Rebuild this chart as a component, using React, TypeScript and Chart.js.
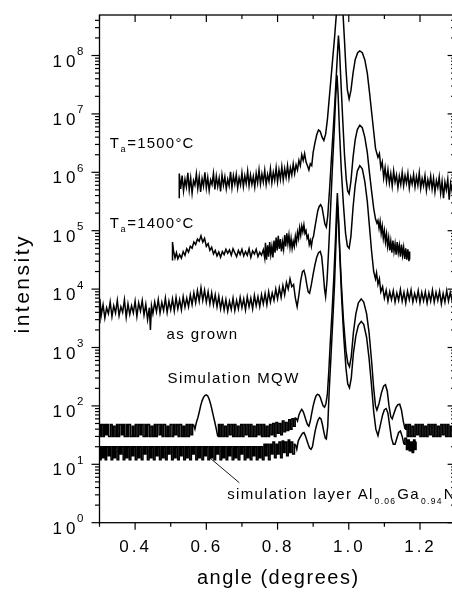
import React, { useEffect, useRef } from 'react';
import { Chart, registerables } from 'chart.js';

Chart.register(...registerables);

// ---- data (angle in degrees, intensity in counts) ----
const TA1500: [number, number][] = [
  [0.524,3.6e5],[0.524,9.5e5],[0.528,5.2e5],[0.532,8.8e5],[0.536,4.8e5],[0.54,7.6e5],[0.544,5.6e5],[0.548,9.8e5],[0.552,5e5],[0.556,8e5],
  [0.56,4.4e5],[0.564,7.2e5],[0.568,6e5],[0.572,9.4e5],[0.576,5.3e5],[0.58,8.4e5],[0.584,4.6e5],[0.588,7.8e5],[0.592,5.8e5],[0.596,1e6],
  [0.6,5.4e5],[0.604,8.2e5],[0.608,4.9e5],[0.612,7.4e5],[0.616,6.2e5],[0.62,9.6e5],[0.624,5.1e5],[0.628,8.6e5],[0.632,5.7e5],[0.636,8e5],
  [0.64,4.7e5],[0.644,9e5],[0.648,6e5],[0.652,8.4e5],[0.656,5.2e5],[0.66,7.6e5],[0.664,5.9e5],[0.668,1.02e6],[0.672,5.5e5],[0.676,8.8e5],
  [0.68,6.3e5],[0.684,9.2e5],[0.688,5.4e5],[0.692,8e5],[0.696,6.1e5],[0.7,9.8e5],[0.704,5.7e5],[0.708,8.7e5],[0.712,6.4e5],[0.716,1.05e6],
  [0.72,5.9e5],[0.724,9e5],[0.728,6.2e5],[0.732,8.5e5],[0.736,5.6e5],[0.74,9.6e5],[0.744,6.6e5],[0.748,1.1e6],[0.752,6.3e5],[0.756,9.4e5],
  [0.76,6.8e5],[0.764,1.08e6],[0.768,6.2e5],[0.772,9.2e5],[0.776,7e5],[0.78,1.15e6],[0.784,6.6e5],[0.788,1e6],[0.792,7.3e5],[0.796,1.2e6],
  [0.8,6.9e5],[0.804,1.1e6],[0.808,7.6e5],[0.812,1.25e6],[0.816,7.4e5],[0.82,1.15e6],[0.824,8.2e5],[0.828,1.3e6],[0.832,8e5],[0.836,1.2e6],
  [0.84,9e5],[0.844,1.4e6],[0.848,9.5e5],[0.852,1.35e6],[0.856,1.1e6],[0.86,1.6e6],[0.864,1.3e6],[0.868,2e6],[0.872,1.6e6],[0.876,2.1e6],
  [0.88,1.5e6],[0.884,1.3e6],[0.888,1.1e6],[0.892,1.4e6],[0.896,1.3e6],[0.9,2.2e6],[0.905,3.2e6],[0.91,4.4e6],[0.915,5.3e6],[0.92,5e6],
  [0.925,4e6],[0.93,3.5e6],[0.935,4.5e6],[0.94,8e6],[0.945,1.8e7],[0.95,4e7],[0.955,9e7],[0.96,2e8],[0.965,5e8],[0.97,1.4e9],
  [0.975,2e9],[0.98,1.2e9],[0.984,5e8],[0.988,1.8e8],[0.992,6e7],[0.996,2.6e7],[1.001,1.8e7],[1.006,2.5e7],[1.012,5e7],[1.018,8.5e7],
  [1.025,1.12e8],[1.031,1.2e8],[1.038,1.12e8],[1.045,8.5e7],[1.052,5e7],[1.058,2.4e7],[1.064,1.1e7],[1.07,5e6],[1.075,2.6e6],[1.078,2.2e6],
  [1.082,1.8e6],[1.086,2.1e6],[1.09,1.2e6],[1.094,1.5e6],[1.098,8e5],[1.102,1.2e6],[1.106,7e5],[1.11,1.1e6],[1.114,6.5e5],[1.118,9.5e5],
  [1.122,5.8e5],[1.126,1.05e6],[1.13,6.8e5],[1.134,9e5],[1.138,5.5e5],[1.142,8.6e5],[1.146,6.2e5],[1.15,1e6],[1.154,5.9e5],[1.158,8.8e5],
  [1.162,6.5e5],[1.166,9.6e5],[1.17,5.4e5],[1.174,8.2e5],[1.178,6.3e5],[1.182,9.2e5],[1.186,5.6e5],[1.19,8.4e5],[1.194,6e5],[1.198,9.8e5],
  [1.202,5.3e5],[1.206,7.8e5],[1.21,5.9e5],[1.214,8.8e5],[1.218,4.9e5],[1.222,7.5e5],[1.226,5.6e5],[1.23,8.6e5],[1.234,5.2e5],[1.238,7.9e5],
  [1.242,4.6e5],[1.246,7.2e5],[1.25,5.5e5],[1.254,8.3e5],[1.258,4.4e5],[1.262,7e5],[1.266,3.6e5],[1.27,6.8e5],[1.274,5e5],[1.278,7.6e5],
  [1.282,3.4e5],[1.286,6.5e5],[1.29,4.8e5],[1.295,7e5],[1.3,5e5],
];

const TA1400: [number, number][] = [
  [0.505,3.1e4],[0.505,6.4e4],[0.508,4.5e4],[0.512,3.4e4],[0.516,4.2e4],[0.52,3.3e4],[0.525,3.9e4],[0.53,3.4e4],[0.535,4.4e4],[0.54,3.8e4],
  [0.545,4.9e4],[0.55,4.3e4],[0.555,5.4e4],[0.56,5e4],[0.565,6.4e4],[0.57,5.8e4],[0.575,7.2e4],[0.58,6.6e4],[0.585,8.2e4],[0.59,6.4e4],
  [0.595,7.4e4],[0.6,5.4e4],[0.605,6e4],[0.61,4.6e4],[0.615,5.2e4],[0.62,4e4],[0.625,4.6e4],[0.63,3.7e4],[0.635,4.3e4],[0.64,3.5e4],
  [0.645,4.4e4],[0.65,3.9e4],[0.655,4.8e4],[0.66,4.1e4],[0.665,4.7e4],[0.67,3.8e4],[0.675,4.9e4],[0.68,4.2e4],[0.685,3.6e4],[0.69,4.6e4],
  [0.695,3.9e4],[0.7,4.8e4],[0.705,3.7e4],[0.71,4.4e4],[0.715,3.8e4],[0.72,4.9e4],[0.725,3.5e4],[0.73,4.5e4],[0.735,4e4],[0.74,4.8e4],
  [0.745,3.6e4],[0.75,4.3e4],[0.755,3.8e4],[0.76,4.7e4],[0.764,3.4e4],[0.766,6.2e4],[0.769,3.2e4],[0.772,5.6e4],[0.775,3.6e4],[0.778,6.4e4],
  [0.781,3.9e4],[0.784,5.4e4],[0.787,3.5e4],[0.79,6.8e4],[0.793,4.2e4],[0.796,7.6e4],[0.799,4.6e4],[0.802,8.2e4],[0.805,4.9e4],[0.808,7.2e4],
  [0.811,4.4e4],[0.814,6.4e4],[0.817,4.8e4],[0.82,8.4e4],[0.823,5.4e4],[0.826,9e4],[0.829,6e4],[0.832,8.4e4],[0.835,5.2e4],[0.838,7.4e4],
  [0.841,5e4],[0.844,6.6e4],[0.847,5.4e4],[0.85,8e4],[0.853,6.2e4],[0.856,9.4e4],[0.859,7.4e4],[0.862,1.12e5],[0.865,8.4e4],[0.868,1.2e5],
  [0.871,9.6e4],[0.874,1.26e5],[0.877,9e4],[0.88,1e5],[0.883,7.4e4],[0.886,8.2e4],[0.889,5.8e4],[0.892,6.8e4],[0.895,5.4e4],[0.898,7.2e4],
  [0.901,8e4],[0.905,1.15e5],[0.909,1.6e5],[0.913,2.2e5],[0.917,2.6e5],[0.921,2.8e5],[0.925,2.5e5],[0.929,1.8e5],[0.933,1.3e5],[0.937,1.15e5],
  [0.941,1.8e5],[0.946,5e5],[0.951,1.6e6],[0.956,5e6],[0.961,1.6e7],[0.966,6e7],[0.969,1.3e8],[0.971,2.2e8],[0.974,1.2e8],[0.978,3.5e7],
  [0.983,8e6],[0.988,2e6],[0.993,7.5e5],[0.997,4.8e5],[1.001,4.3e5],[1.006,7e5],[1.012,1.8e6],[1.018,3.6e6],[1.024,5.4e6],[1.031,6.4e6],
  [1.038,5.8e6],[1.045,4e6],[1.052,2.2e6],[1.058,1e6],[1.064,4.8e5],[1.07,2.4e5],[1.075,1.6e5],[1.079,1.35e5],[1.082,1.5e5],[1.085,1.1e5],
  [1.088,1.45e5],[1.091,9e4],[1.094,1.2e5],[1.097,7.4e4],[1.1,1e5],[1.103,6.4e4],[1.106,8.8e4],[1.109,5.4e4],[1.112,7.6e4],[1.115,4.6e4],
  [1.118,6.6e4],[1.121,4.2e4],[1.124,6.8e4],[1.127,4.4e4],[1.13,6e4],[1.133,3.9e4],[1.136,6.4e4],[1.139,4.2e4],[1.142,5.6e4],[1.145,3.6e4],
  [1.148,5.8e4],[1.151,3.8e4],[1.154,5.2e4],[1.157,3.3e4],[1.16,5e4],[1.163,3.2e4],[1.166,4.8e4],[1.169,3e4],[1.171,4.4e4],[1.171,3.2e4],
];

const AS_GROWN: [number, number][] = [
  [0.301,2.6e3],[0.301,6.8e3],[0.305,3.6e3],[0.31,5.4e3],[0.315,3.2e3],[0.32,4.8e3],[0.325,3.8e3],[0.33,6e3],[0.335,3.4e3],[0.34,5.2e3],
  [0.345,3.9e3],[0.35,6.4e3],[0.355,3.5e3],[0.36,5e3],[0.365,4e3],[0.37,6.6e3],[0.375,3.3e3],[0.38,5.6e3],[0.385,3.7e3],[0.39,5.2e3],
  [0.395,3.9e3],[0.4,6.2e3],[0.405,3.4e3],[0.41,5.8e3],[0.415,4.2e3],[0.42,6.4e3],[0.425,3.6e3],[0.43,5.5e3],[0.435,3e3],[0.44,4.8e3],
  [0.443,2e3],[0.446,5.2e3],[0.45,3.8e3],[0.455,6e3],[0.46,4.1e3],[0.465,6.6e3],[0.47,3.9e3],[0.475,5.9e3],[0.48,4.3e3],[0.485,7e3],
  [0.49,4e3],[0.495,6.2e3],[0.5,4.4e3],[0.505,6.8e3],[0.51,4.2e3],[0.515,7.2e3],[0.52,4.6e3],[0.525,6.6e3],[0.53,4.4e3],[0.535,7.4e3],
  [0.54,4.9e3],[0.545,7e3],[0.55,5e3],[0.555,8e3],[0.56,5.4e3],[0.565,8.6e3],[0.57,5.8e3],[0.575,9.4e3],[0.58,6.2e3],[0.585,1.05e4],
  [0.59,6.4e3],[0.595,9.6e3],[0.6,6e3],[0.605,9e3],[0.61,5.6e3],[0.615,8.6e3],[0.62,5.4e3],[0.625,8e3],[0.63,5e3],[0.635,7.6e3],
  [0.64,4.6e3],[0.645,6.8e3],[0.65,4.4e3],[0.655,6.6e3],[0.66,4.2e3],[0.665,6.2e3],[0.67,4.5e3],[0.675,7e3],[0.68,4.3e3],[0.685,6.4e3],
  [0.69,4.6e3],[0.695,7.2e3],[0.7,4.8e3],[0.705,6.8e3],[0.71,4.4e3],[0.715,7.4e3],[0.72,5e3],[0.725,7e3],[0.73,4.6e3],[0.735,7.8e3],
  [0.74,5.2e3],[0.745,7.4e3],[0.75,5e3],[0.755,8e3],[0.76,5.6e3],[0.765,8.4e3],[0.77,5.4e3],[0.775,9e3],[0.78,6e3],[0.785,8.6e3],
  [0.79,6.4e3],[0.795,1e4],[0.8,6.8e3],[0.805,1.05e4],[0.81,7.2e3],[0.815,1.15e4],[0.82,8e3],[0.825,1.3e4],[0.83,1e4],[0.835,1.5e4],
  [0.84,1.1e4],[0.845,1.2e4],[0.85,7e3],[0.855,5e3],[0.86,8e3],[0.865,1.4e4],[0.87,2e4],[0.874,2.1e4],[0.878,1.7e4],[0.882,1.2e4],
  [0.886,9e3],[0.89,8.5e3],[0.895,1.2e4],[0.9,1.8e4],[0.905,2.6e4],[0.91,3.5e4],[0.915,4.2e4],[0.92,4.4e4],[0.924,3.6e4],[0.928,2e4],
  [0.932,1e4],[0.935,7.4e3],[0.939,1.4e4],[0.944,5.5e4],[0.949,2.5e5],[0.954,1.2e6],[0.959,5e6],[0.963,1.8e7],[0.967,4.6e7],[0.97,2.2e7],
  [0.974,5e6],[0.979,1.1e6],[0.985,2.8e5],[0.991,9e4],[0.996,5.5e4],[1.001,5e4],[1.006,8e4],[1.012,2.5e5],[1.018,6e5],[1.024,1.05e6],
  [1.031,1.3e6],[1.038,1.15e6],[1.045,7e5],[1.052,3.2e5],[1.058,1.2e5],[1.064,4.5e4],[1.07,2e4],[1.075,1.5e4],[1.078,1.9e4],[1.082,1.2e4],
  [1.086,1.5e4],[1.09,9e3],[1.095,1.1e4],[1.1,7e3],[1.105,9.6e3],[1.11,6.2e3],[1.115,9e3],[1.12,6.6e3],[1.125,9.4e3],[1.13,6e3],
  [1.135,8.6e3],[1.14,6.4e3],[1.145,9.8e3],[1.15,6.2e3],[1.155,8.8e3],[1.16,5.8e3],[1.165,9.2e3],[1.17,6.6e3],[1.175,9.6e3],[1.18,6e3],
  [1.185,8.4e3],[1.19,6.4e3],[1.195,9.4e3],[1.2,5.9e3],[1.205,8.8e3],[1.21,6.3e3],[1.215,9e3],[1.22,5.8e3],[1.225,8.6e3],[1.23,6.2e3],
  [1.235,9.6e3],[1.24,6e3],[1.245,8.8e3],[1.25,6.4e3],[1.255,9.2e3],[1.26,5.6e3],[1.265,8.4e3],[1.27,6e3],[1.275,9.4e3],[1.28,6.2e3],
  [1.285,8.8e3],[1.29,6.4e3],[1.295,9e3],[1.3,6.6e3],
];

const SIM_MQW: [number, number][] = [
  [0.3,48],[0.303,30],[0.307,48],[0.312,30],[0.315,48],[0.32,32],[0.323,48],[0.328,30],[0.334,48],[0.337,30],
  [0.341,45],[0.346,30],[0.35,48],[0.354,30],[0.359,48],[0.364,32],[0.367,48],[0.372,30],[0.377,48],[0.38,30],
  [0.384,48],[0.39,30],[0.394,45],[0.398,30],[0.403,48],[0.407,30],[0.412,48],[0.416,32],[0.42,48],[0.425,30],
  [0.43,48],[0.433,30],[0.438,48],[0.443,30],[0.447,45],[0.452,30],[0.456,48],[0.46,30],[0.465,48],[0.47,32],
  [0.474,48],[0.478,30],[0.483,48],[0.488,30],[0.492,45],[0.496,30],[0.501,48],[0.506,30],[0.51,48],[0.514,32],
  [0.519,48],[0.523,30],[0.528,48],[0.533,30],[0.537,45],[0.541,30],[0.546,48],[0.55,30],[0.555,48],[0.559,32],
  [0.564,48],[0.568,40],[0.572,52],[0.576,62],[0.58,78],[0.584,100],[0.588,122],[0.592,140],[0.596,150],[0.6,155],
  [0.604,148],[0.608,130],[0.612,108],[0.616,85],[0.62,66],[0.624,52],[0.628,40],[0.632,30],[0.636,48],[0.64,30],
  [0.645,48],[0.649,30],[0.654,45],[0.658,30],[0.663,48],[0.667,32],[0.672,48],[0.676,30],[0.681,48],[0.685,30],
  [0.69,45],[0.694,30],[0.699,48],[0.703,30],[0.708,48],[0.712,32],[0.717,48],[0.721,30],[0.726,48],[0.73,30],
  [0.735,45],[0.739,30],[0.744,48],[0.748,32],[0.753,48],[0.757,30],[0.762,48],[0.766,30],[0.771,45],[0.775,30],
  [0.78,48],[0.784,32],[0.789,50],[0.793,30],[0.798,52],[0.802,34],[0.807,50],[0.811,32],[0.816,55],[0.82,36],
  [0.825,52],[0.829,38],[0.834,58],[0.838,40],[0.843,60],[0.847,45],[0.852,62],[0.856,55],[0.86,70],[0.864,80],
  [0.868,87],[0.872,80],[0.876,68],[0.88,56],[0.884,48],[0.888,45],[0.892,55],[0.896,75],[0.9,100],[0.904,125],
  [0.908,148],[0.912,158],[0.916,155],[0.92,140],[0.924,118],[0.928,100],[0.932,95],[0.936,110],[0.94,160],[0.944,400],
  [0.948,1.2e3],[0.953,4e3],[0.958,1.6e4],[0.963,8e4],[0.966,2.5e5],[0.968,4.4e5],[0.97,2.5e5],[0.974,6e4],[0.979,1.3e4],[0.985,3e3],
  [0.992,900],[0.997,550],[1.002,470],[1.007,700],[1.013,1.8e3],[1.02,3.8e3],[1.027,5.8e3],[1.035,6.8e3],[1.042,6e3],[1.05,3.8e3],
  [1.057,1.8e3],[1.064,600],[1.07,200],[1.075,100],[1.079,85],[1.085,110],[1.092,170],[1.098,220],[1.103,230],[1.108,180],
  [1.113,100],[1.118,65],[1.122,60],[1.127,75],[1.133,95],[1.138,105],[1.143,107],[1.148,85],[1.153,55],[1.158,40],
  [1.162,48],[1.166,30],[1.171,48],[1.175,30],[1.18,45],[1.184,30],[1.189,48],[1.193,32],[1.198,48],[1.202,30],
  [1.207,48],[1.211,30],[1.216,45],[1.22,30],[1.225,48],[1.229,32],[1.234,48],[1.238,30],[1.243,48],[1.247,30],
  [1.252,45],[1.256,30],[1.261,48],[1.265,32],[1.27,48],[1.274,30],[1.279,48],[1.283,30],[1.288,45],[1.292,30],
  [1.297,48],[1.3,30],
];

const SIM_LAYER: [number, number][] = [
  [0.3,20],[0.303,12],[0.306,20],[0.311,13],[0.314,20],[0.318,12],[0.322,20],[0.327,14],[0.33,20],[0.335,12],
  [0.339,20],[0.343,13],[0.347,20],[0.352,12],[0.356,20],[0.36,15],[0.364,20],[0.369,12],[0.373,20],[0.377,13],
  [0.381,20],[0.386,12],[0.39,20],[0.394,14],[0.398,20],[0.403,12],[0.407,20],[0.411,13],[0.415,20],[0.42,12],
  [0.424,20],[0.428,15],[0.432,20],[0.437,12],[0.441,20],[0.445,13],[0.449,20],[0.454,12],[0.458,20],[0.462,14],
  [0.466,20],[0.471,12],[0.475,20],[0.479,13],[0.483,20],[0.488,12],[0.492,20],[0.496,15],[0.5,20],[0.505,12],
  [0.509,20],[0.513,13],[0.517,20],[0.522,12],[0.526,20],[0.53,14],[0.534,20],[0.539,12],[0.543,20],[0.547,13],
  [0.551,20],[0.556,12],[0.56,20],[0.564,15],[0.568,20],[0.573,12],[0.577,20],[0.581,13],[0.585,20],[0.59,12],
  [0.594,20],[0.598,14],[0.602,20],[0.607,12],[0.611,20],[0.615,13],[0.619,20],[0.624,12],[0.628,20],[0.632,15],
  [0.636,20],[0.641,12],[0.645,20],[0.649,13],[0.653,20],[0.658,12],[0.662,20],[0.666,14],[0.67,20],[0.675,12],
  [0.679,20],[0.683,13],[0.687,20],[0.692,12],[0.696,20],[0.7,15],[0.704,20],[0.709,12],[0.713,20],[0.717,13],
  [0.721,20],[0.726,12],[0.73,20],[0.734,14],[0.738,20],[0.743,12],[0.747,20],[0.751,13],[0.755,20],[0.76,12],
  [0.764,22],[0.768,14],[0.772,22],[0.777,12],[0.781,22],[0.785,15],[0.789,24],[0.794,13],[0.798,22],[0.802,15],
  [0.806,24],[0.811,13],[0.815,25],[0.819,16],[0.823,24],[0.828,14],[0.832,26],[0.836,16],[0.84,24],[0.845,15],
  [0.85,22],[0.854,18],[0.858,25],[0.862,28],[0.866,31],[0.87,34],[0.874,35],[0.878,31],[0.882,26],[0.886,22],
  [0.89,19],[0.894,18],[0.898,20],[0.902,28],[0.906,38],[0.91,48],[0.914,58],[0.918,63],[0.922,60],[0.926,48],
  [0.93,36],[0.934,28],[0.937,27],[0.941,45],[0.945,180],[0.95,700],[0.955,2.8e3],[0.96,1.2e4],[0.964,6e4],[0.967,2e5],
  [0.969,2.6e5],[0.971,1.5e5],[0.975,3.5e4],[0.98,7e3],[0.986,1.5e3],[0.992,450],[0.997,240],[1.002,205],[1.007,300],[1.013,800],
  [1.02,1.6e3],[1.027,2.4e3],[1.035,2.8e3],[1.042,2.5e3],[1.05,1.5e3],[1.057,650],[1.064,220],[1.07,80],[1.076,40],[1.082,31],
  [1.088,45],[1.095,70],[1.1,86],[1.105,90],[1.11,75],[1.115,45],[1.12,28],[1.125,22],[1.13,22],[1.135,28],
  [1.14,35],[1.145,37],[1.15,30],[1.155,22],[1.16,28],[1.164,18],[1.168,26],[1.172,17],[1.176,24],[1.18,16],
  [1.184,26],[1.188,18],[1.19,24],
];

// angle ranges where the simulated curves are smooth (outside them the counts are step-quantised)
const SIM_MQW_SMOOTH: [number, number][] = [[0.564, 0.632], [0.852, 1.158]];
const SIM_LAYER_SMOOTH: [number, number][] = [[0.85, 1.155]];

const ANNOTATION_LINE: [number, number][] = [[0.6103, 12.8], [0.6926, 4.84]];

const X_MAJOR_TICKS = [0.4, 0.6, 0.8, 1.0, 1.2];
const X_TICK_LABELS = ['0.4', '0.6', '0.8', '1.0', '1.2'];
const X_MINOR_TICKS = [0.3, 0.5, 0.7, 0.9, 1.1, 1.3];
const Y_DECADES = [0, 1, 2, 3, 4, 5, 6, 7, 8];

const X_MIN = 0.3;
const X_MAX = 1.3;
const Y_MIN = 1;
const Y_MAX = 4.94e8;

const FONT = "'Liberation Sans', Arial, Helvetica, sans-serif";

type Run = { t: string; size: number; dy: number; dx?: number };

// Text annotations: anchor in data coordinates (angle, intensity) = left/baseline
const LABELS: { x: number; y: number; spacing: number; runs: Run[] }[] = [
  { x: 0.3286, y: 2.61e6, spacing: 1.2, runs: [
    { t: 'T', size: 15, dy: 0 }, { t: 'a', size: 9, dy: 4, dx: 0.5 }, { t: '=1500°C', size: 15, dy: 0, dx: 0.5 } ] },
  { x: 0.3286, y: 1.11e5, spacing: 1.2, runs: [
    { t: 'T', size: 15, dy: 0 }, { t: 'a', size: 9, dy: 4, dx: 0.5 }, { t: '=1400°C', size: 15, dy: 0, dx: 0.5 } ] },
  { x: 0.4882, y: 1387, spacing: 1.4, runs: [{ t: 'as grown', size: 15, dy: 0 }] },
  { x: 0.4912, y: 244, spacing: 1.4, runs: [{ t: 'Simulation MQW', size: 15, dy: 0 }] },
  { x: 0.6586, y: 2.55, spacing: 1.3, runs: [
    { t: 'simulation layer Al', size: 15, dy: 0 }, { t: '0.06', size: 8.5, dy: 5, dx: 1 },
    { t: 'Ga', size: 15, dy: 0, dx: 1 }, { t: '0.94', size: 8.5, dy: 5, dx: 1 }, { t: 'N', size: 15, dy: 0, dx: 1 } ] },
];

const toXY = (arr: [number, number][]) => arr.map(([x, y]) => ({ x, y }));

// split a series into consecutive pieces: smooth (inside ranges) or stepped (outside)
function splitSeries(arr: [number, number][], smooth: [number, number][]) {
  const pieces: { pts: [number, number][]; smooth: boolean }[] = [];
  for (let i = 0; i < arr.length - 1; i++) {
    const mid = (arr[i][0] + arr[i + 1][0]) / 2;
    const isSmooth = smooth.some(([a, b]) => mid >= a && mid <= b);
    const last = pieces[pieces.length - 1];
    if (last && last.smooth === isSmooth) {
      last.pts.push(arr[i + 1]);
    } else {
      pieces.push({ pts: [arr[i], arr[i + 1]], smooth: isSmooth });
    }
  }
  return pieces;
}

const framePlugin = {
  id: 'framePlugin',
  afterDraw(chart: any) {
    const { ctx, chartArea } = chart;
    const { left, right, top, bottom } = chartArea;
    const xs = chart.scales.x;
    const ys = chart.scales.y;
    ctx.save();
    ctx.strokeStyle = '#000';
    ctx.fillStyle = '#000';
    ctx.lineWidth = 1.3;
    ctx.strokeRect(left, top, right - left, bottom - top);

    ctx.lineWidth = 1.2;
    const line = (x1: number, y1: number, x2: number, y2: number) => {
      ctx.beginPath(); ctx.moveTo(x1, y1); ctx.lineTo(x2, y2); ctx.stroke();
    };
    X_MAJOR_TICKS.forEach((v) => {
      const px = xs.getPixelForValue(v);
      line(px, bottom, px, bottom + 7);
      line(px, top, px, top + 7);
    });
    X_MINOR_TICKS.forEach((v) => {
      const px = xs.getPixelForValue(v);
      line(px, bottom, px, bottom + 4);
      line(px, top, px, top + 4);
    });
    Y_DECADES.forEach((d) => {
      const py = ys.getPixelForValue(Math.pow(10, d));
      line(left - 8, py, left, py);
      line(right - 8, py, right, py);
      for (let m = 2; m <= 9; m++) {
        const v = m * Math.pow(10, d);
        if (v > Y_MAX) break;
        const pm = ys.getPixelForValue(v);
        line(left - 4.5, pm, left, pm);
        line(right - 4.5, pm, right, pm);
      }
    });

    ctx.textBaseline = 'alphabetic';
    ctx.textAlign = 'left';
    Y_DECADES.forEach((d) => {
      const py = ys.getPixelForValue(Math.pow(10, d));
      ctx.font = `17px ${FONT}`;
      (ctx as any).letterSpacing = '4px';
      ctx.fillText('10', 52.5, py + 11);
      ctx.font = `11.5px ${FONT}`;
      (ctx as any).letterSpacing = '0px';
      ctx.fillText(String(d), 77, py - 0.5);
    });

    ctx.font = `17px ${FONT}`;
    (ctx as any).letterSpacing = '3px';
    X_MAJOR_TICKS.forEach((v, i) => {
      const px = xs.getPixelForValue(v);
      const w = ctx.measureText(X_TICK_LABELS[i]).width - 3;
      ctx.fillText(X_TICK_LABELS[i], px - 1 - w / 2, 551.7);
    });

    ctx.font = `20px ${FONT}`;
    (ctx as any).letterSpacing = '1.5px';
    const xt = 'angle (degrees)';
    const xw = ctx.measureText(xt).width - 1.5;
    ctx.fillText(xt, 277.5 - xw / 2, 583.5);

    ctx.save();
    ctx.font = `21px ${FONT}`;
    (ctx as any).letterSpacing = '2.5px';
    const yt = 'intensity';
    const yw = ctx.measureText(yt).width - 2.5;
    ctx.translate(29, 285);
    ctx.rotate(-Math.PI / 2);
    ctx.fillText(yt, -yw / 2, 0);
    ctx.restore();

    LABELS.forEach((lab) => {
      let cx = xs.getPixelForValue(lab.x);
      const by = ys.getPixelForValue(lab.y);
      (ctx as any).letterSpacing = `${lab.spacing}px`;
      lab.runs.forEach((r) => {
        cx += r.dx || 0;
        ctx.font = `${r.size}px ${FONT}`;
        ctx.fillText(r.t, cx, by + r.dy);
        cx += ctx.measureText(r.t).width;
      });
    });
    ctx.restore();
  },
};

export default function App() {
  const canvasRef = useRef<HTMLCanvasElement | null>(null);

  useEffect(() => {
    if (!canvasRef.current) return;
    const common = { borderColor: '#000', borderWidth: 1.5, pointRadius: 0, tension: 0, fill: false };
    const simSets = [
      { name: 'Simulation MQW', arr: SIM_MQW, smooth: SIM_MQW_SMOOTH },
      { name: 'simulation layer Al0.06Ga0.94N', arr: SIM_LAYER, smooth: SIM_LAYER_SMOOTH },
    ].flatMap((s) =>
      splitSeries(s.arr, s.smooth).map((p) => ({
        label: s.name,
        data: toXY(p.pts),
        ...common,
        stepped: p.smooth ? false : 'middle',
      }))
    );
    const chart = new Chart(canvasRef.current, {
      type: 'line',
      data: {
        datasets: [
          { label: 'Ta=1500°C', data: toXY(TA1500), ...common },
          { label: 'Ta=1400°C', data: toXY(TA1400), ...common },
          { label: 'as grown', data: toXY(AS_GROWN), ...common },
          ...simSets,
          { label: 'pointer', data: toXY(ANNOTATION_LINE), ...common, borderWidth: 0.9 },
        ] as any,
      },
      options: {
        responsive: false,
        animation: false,
        devicePixelRatio: 1,
        layout: { padding: { left: 99.5, right: 4.4, top: 15, bottom: 71.3 } },
        plugins: { legend: { display: false }, tooltip: { enabled: false } },
        scales: {
          x: { type: 'linear', min: X_MIN, max: X_MAX, display: false },
          y: { type: 'logarithmic', min: Y_MIN, max: Y_MAX, display: false },
        },
      } as any,
      plugins: [framePlugin],
    });
    return () => chart.destroy();
  }, []);

  return (
    <div style={{ position: 'fixed', left: 0, top: 0, width: 452, height: 594, overflow: 'hidden', background: '#fff' }}>
      <canvas ref={canvasRef} width={460} height={594} style={{ display: 'block' }} />
    </div>
  );
}
